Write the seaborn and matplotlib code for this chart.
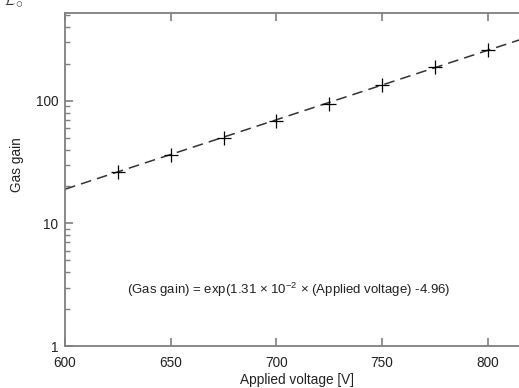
import numpy as np
import pandas as pd
import matplotlib
matplotlib.use("Agg")
import matplotlib.pyplot as plt
import seaborn as sns
from matplotlib.ticker import LogLocator, NullFormatter, FixedLocator

# data
voltage = [625, 650, 675, 700, 725, 750, 775, 800]
gas_gain = [26.5, 36.4, 49.5, 69.0, 95.0, 135.0, 189.0, 260.0]
fit_voltage = [600, 820]
fit_gain = [19.0, 335.0]
x_ticks = [600, 650, 700, 750, 800]
y_ticks = [1, 10, 100]
y_tick_labels = ["1", "10", "100"]

sns.set_theme(style="ticks")
plt.rcParams['font.family'] = ['Liberation Sans', 'DejaVu Sans']
plt.rcParams['mathtext.fontset'] = 'custom'
plt.rcParams['mathtext.rm'] = 'Liberation Sans'

fig = plt.figure(figsize=(5.19, 3.88), dpi=100)
ax = fig.add_axes([65/519, 1-346/388, (530-65)/519, (346-13)/388])

pts = pd.DataFrame({"v": voltage, "g": gas_gain})
fit = pd.DataFrame({"v": fit_voltage, "g": fit_gain})

sns.lineplot(data=fit, x="v", y="g", ax=ax, color="#333333", linewidth=1.1,
             dashes=False, linestyle=(0, (7, 4)))
sns.scatterplot(data=pts, x="v", y="g", ax=ax, marker="+", s=105, color="black",
                linewidth=0.9, zorder=5)

ax.set_yscale("log")
ax.set_xlim(600, 820)
ax.set_ylim(1, 520)
ax.xaxis.set_major_locator(FixedLocator(x_ticks))
ax.set_yticks(y_ticks)
ax.set_yticklabels(y_tick_labels)
ax.yaxis.set_minor_locator(LogLocator(base=10, subs=np.arange(2, 10)))
ax.yaxis.set_minor_formatter(NullFormatter())

grey = "#7f7f7f"
for side in ["left", "bottom", "top", "right"]:
    ax.spines[side].set_color(grey)
    ax.spines[side].set_linewidth(1.3)
ax.tick_params(axis="both", which="major", direction="in", length=6, width=1.2,
               color=grey, labelsize=9.8, labelcolor="#222222", pad=5,
               top=True, right=False)
ax.tick_params(axis="y", which="minor", direction="in", length=3.5, width=1.0,
               color=grey, left=True, right=False)
ax.tick_params(axis="x", which="major", pad=7)

ax.set_xlabel("Applied voltage [V]", fontsize=9.8, color="#222222", labelpad=2.5)
ax.set_ylabel("Gas gain", fontsize=9.8, color="#222222")
ax.yaxis.set_label_coords(-0.088, 0.545)

ax.text(289/519, 1-290/388, r"(Gas gain) = exp(1.31 $\times$ 10$^{-2}$ $\times$ (Applied voltage) -4.96)",
        transform=fig.transFigure, ha="center", va="center", fontsize=9.5, color="#222222")

fig.text(0.005, 1.005, r"$\mathcal{E}_{\circ}$", fontsize=14, ha="left", va="center", color="#333333")

fig.savefig("out.png", dpi=100)
